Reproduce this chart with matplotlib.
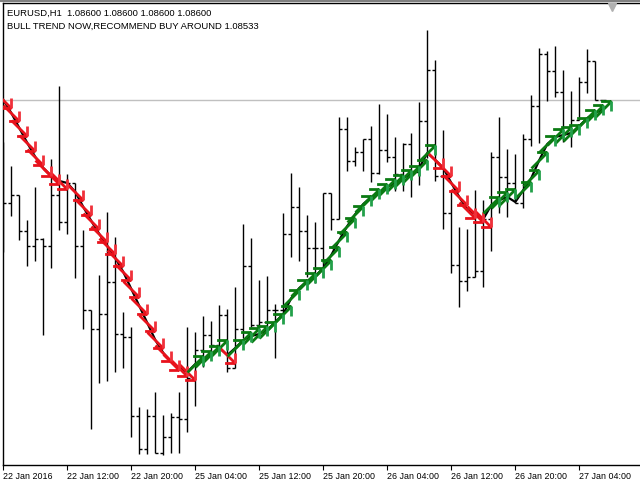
import numpy as np
import matplotlib
matplotlib.use("Agg")
import matplotlib.pyplot as plt
from matplotlib.path import Path

# ---------------- data (EURUSD H1) ----------------
opens = [1.08450, 1.08291, 1.08315, 1.08207, 1.08162, 1.08183, 1.08162, 1.08315,
         1.08234, 1.08351, 1.08162, 1.07970, 1.07913, 1.07958, 1.08054, 1.07898,
         1.07889, 1.07652, 1.07553, 1.07652, 1.07541, 1.07589, 1.07649, 1.07643,
         1.07766, 1.07850, 1.07895, 1.07865, 1.07955, 1.07796, 1.07913, 1.08102,
         1.07925, 1.07934, 1.07970, 1.07970, 1.08198, 1.08279, 1.08207, 1.08156,
         1.08156, 1.08321, 1.08243, 1.08513, 1.08417, 1.08444, 1.08483, 1.08381,
         1.08450, 1.08429, 1.08378, 1.08468, 1.08384, 1.08537, 1.08690, 1.08372,
         1.08261, 1.08105, 1.08057, 1.08069, 1.08087, 1.08243, 1.08429, 1.08369,
         1.08351, 1.08291, 1.08483, 1.08582, 1.08738, 1.08687, 1.08624, 1.08501,
         1.08540, 1.08654, 1.08717, 1.08600]
highs = [1.08474, 1.08402, 1.08315, 1.08240, 1.08339, 1.08186, 1.08423, 1.08642,
         1.08378, 1.08351, 1.08210, 1.07970, 1.08075, 1.08264, 1.08189, 1.07964,
         1.07919, 1.07679, 1.07673, 1.07724, 1.07655, 1.07661, 1.07724, 1.07919,
         1.07904, 1.07952, 1.07937, 1.07985, 1.07973, 1.08039, 1.08228, 1.08186,
         1.08060, 1.08072, 1.07988, 1.08261, 1.08381, 1.08339, 1.08255, 1.08234,
         1.08321, 1.08321, 1.08549, 1.08549, 1.08459, 1.08483, 1.08522, 1.08588,
         1.08558, 1.08489, 1.08471, 1.08501, 1.08594, 1.08810, 1.08720, 1.08510,
         1.08330, 1.08219, 1.08213, 1.08330, 1.08300, 1.08444, 1.08549, 1.08453,
         1.08438, 1.08498, 1.08615, 1.08756, 1.08747, 1.08762, 1.08690, 1.08627,
         1.08669, 1.08753, 1.08717, 1.08600]
lows = [1.08144, 1.08252, 1.08180, 1.08102, 1.08117, 1.07895, 1.08096, 1.08210,
        1.08198, 1.08066, 1.07913, 1.07613, 1.07751, 1.07757, 1.07784, 1.07796,
        1.07589, 1.07538, 1.07538, 1.07541, 1.07535, 1.07541, 1.07541, 1.07604,
        1.07682, 1.07799, 1.07829, 1.07844, 1.07784, 1.07796, 1.07886, 1.07919,
        1.07919, 1.07895, 1.07826, 1.07940, 1.08129, 1.08117, 1.08069, 1.08051,
        1.08069, 1.08210, 1.08243, 1.08387, 1.08402, 1.08387, 1.08354, 1.08378,
        1.08414, 1.08327, 1.08327, 1.08309, 1.08345, 1.08426, 1.08357, 1.08213,
        1.08081, 1.07979, 1.08027, 1.08069, 1.08039, 1.08147, 1.08261, 1.08249,
        1.08291, 1.08276, 1.08462, 1.08471, 1.08597, 1.08609, 1.08474, 1.08459,
        1.08540, 1.08621, 1.08600, 1.08600]
closes = [1.08291, 1.08315, 1.08207, 1.08162, 1.08183, 1.08162, 1.08315, 1.08234,
          1.08351, 1.08162, 1.07970, 1.07913, 1.07958, 1.08054, 1.07898, 1.07889,
          1.07652, 1.07553, 1.07652, 1.07541, 1.07589, 1.07649, 1.07643, 1.07766,
          1.07850, 1.07895, 1.07865, 1.07955, 1.07796, 1.07913, 1.08102, 1.07925,
          1.07934, 1.07970, 1.07970, 1.08198, 1.08279, 1.08207, 1.08156, 1.08156,
          1.08321, 1.08243, 1.08513, 1.08417, 1.08444, 1.08483, 1.08381, 1.08450,
          1.08429, 1.08378, 1.08468, 1.08384, 1.08537, 1.08690, 1.08372, 1.08261,
          1.08105, 1.08057, 1.08069, 1.08087, 1.08243, 1.08429, 1.08369, 1.08351,
          1.08291, 1.08483, 1.08582, 1.08738, 1.08687, 1.08624, 1.08501, 1.08540,
          1.08654, 1.08717, 1.08600, 1.08600]
trend_line = [1.08600, 1.08561, 1.08516, 1.08471, 1.08429, 1.08396, 1.08372, 1.08357,
              1.08351, 1.08324, 1.08279, 1.08237, 1.08198, 1.08162, 1.08126, 1.08084,
              1.08033, 1.07982, 1.07931, 1.07880, 1.07841, 1.07814, 1.07796, 1.07784,
              1.07808, 1.07823, 1.07838, 1.07856, 1.07835, 1.07856, 1.07880, 1.07892,
              1.07898, 1.07910, 1.07934, 1.07958, 1.08006, 1.08036, 1.08057, 1.08072,
              1.08096, 1.08135, 1.08180, 1.08222, 1.08258, 1.08288, 1.08309, 1.08324,
              1.08339, 1.08351, 1.08366, 1.08378, 1.08396, 1.08441, 1.08420, 1.08396,
              1.08351, 1.08309, 1.08270, 1.08258, 1.08243, 1.08285, 1.08300, 1.08309,
              1.08294, 1.08330, 1.08366, 1.08420, 1.08468, 1.08489, 1.08495, 1.08501,
              1.08522, 1.08546, 1.08561, 1.08573]
signals = list("DDDDDDDD" + "-" + "DDDDDDDDDDDDDDD" + "UUUU" + "D"
               + "UUUUUUUUUUUUUUUUUUUUUUUUU" + "DDDDDDD" + "UUU" + "-"
               + "UUUUUUUUUUU")
tick_positions = [0, 8, 16, 24, 32, 40, 48, 56, 64, 72]
tick_labels = ["22 Jan 2016", "22 Jan 12:00", "22 Jan 20:00", "25 Jan 04:00",
               "25 Jan 12:00", "25 Jan 20:00", "26 Jan 04:00", "26 Jan 12:00",
               "26 Jan 20:00", "27 Jan 04:00"]
current_price = 1.08600
header1 = "EURUSD,H1  1.08600 1.08600 1.08600 1.08600"
header2 = "BULL TREND NOW,RECOMMEND BUY AROUND 1.08533"

# ---------------- figure ----------------
W, H = 640, 480
fig = plt.figure(figsize=(6.4, 4.8), dpi=100)
fig.patch.set_facecolor("white")
ax_left, ax_top, ax_bottom = 3, 3, 465
ax = fig.add_axes([ax_left / W, (H - ax_bottom) / H, (W - ax_left) / W,
                   (ax_bottom - ax_top) / H])
ax.set_facecolor("white")

x = np.arange(len(closes))
ax.set_xlim(-0.04, -0.04 + (W - ax_left) / 8.0)
ax.set_ylim(1.07505, 1.08891)

# current price line
ax.axhline(current_price, color="#c0c0c0", lw=1.0, zorder=1)

# OHLC bars
tk = 0.36
ax.vlines(x, lows, highs, color="black", lw=1.0, zorder=2)
ax.hlines(opens, x - tk, x, color="black", lw=1.0, zorder=2)
ax.hlines(closes, x, x + tk, color="black", lw=1.0, zorder=2)

# trend line
ax.plot(x, trend_line, color="black", lw=1.6, zorder=3, solid_joinstyle="round")

# arrow markers
M, L = Path.MOVETO, Path.LINETO
dn_main = Path([(-1, 1), (1, -1), (-0.3, -1), (1, -1)], [M, L, M, L])
dn_side = Path([(1, -1), (1, 0.3)], [M, L])
up_main = Path([(-1, -1), (1, 1), (-0.3, 1), (1, 1)], [M, L, M, L])
up_side = Path([(1, 1), (1, -0.3)], [M, L])

sig = np.array(signals)
tl = np.array(trend_line)
dmask = sig == "D"
umask = sig == "U"
ms, mew = 11.5, 2.0
ax.plot(x[dmask], tl[dmask], ls="none", marker=dn_main, ms=ms, mew=mew,
        mec="#e8121c", mfc="none", zorder=4)
ax.plot(x[dmask], tl[dmask], ls="none", marker=dn_side, ms=ms, mew=mew,
        mec="#f0303a", mfc="none", zorder=4)
ax.plot(x[umask], tl[umask], ls="none", marker=up_main, ms=ms, mew=mew,
        mec="#0a7a12", mfc="none", zorder=4)
ax.plot(x[umask], tl[umask], ls="none", marker=up_side, ms=ms, mew=mew,
        mec="#22a04a", mfc="none", zorder=4)

# axes styling
ax.spines["right"].set_visible(False)
for s in ["left", "bottom", "top"]:
    ax.spines[s].set_color("black")
    ax.spines[s].set_linewidth(1.0)
ax.set_yticks([])
ax.set_xticks(tick_positions)
ax.set_xticklabels(tick_labels, fontsize=6.4, family="Liberation Sans")
for lab in ax.get_xticklabels():
    lab.set_horizontalalignment("left")
ax.tick_params(axis="x", direction="out", length=3.5, width=0.8, pad=1.5,
               colors="black")

# header texts
fig.text(7 / W, 1 - 13 / H, header1, fontsize=6.8, family="Liberation Sans",
         va="center", ha="left")
fig.text(7 / W, 1 - 26 / H, header2, fontsize=6.8, family="Liberation Sans",
         va="center", ha="left")

# window top border and chart-shift marker
fig.add_artist(plt.Line2D([0, 1], [1 - 0.8 / H, 1 - 0.8 / H], color="#808080",
                          lw=1.5, transform=fig.transFigure))
fig.add_artist(plt.Line2D([612 / W], [1 - 7 / H], marker="v", ms=6,
                          color="#b0b0b0", ls="none", transform=fig.transFigure))

fig.savefig("out.png", dpi=100)
